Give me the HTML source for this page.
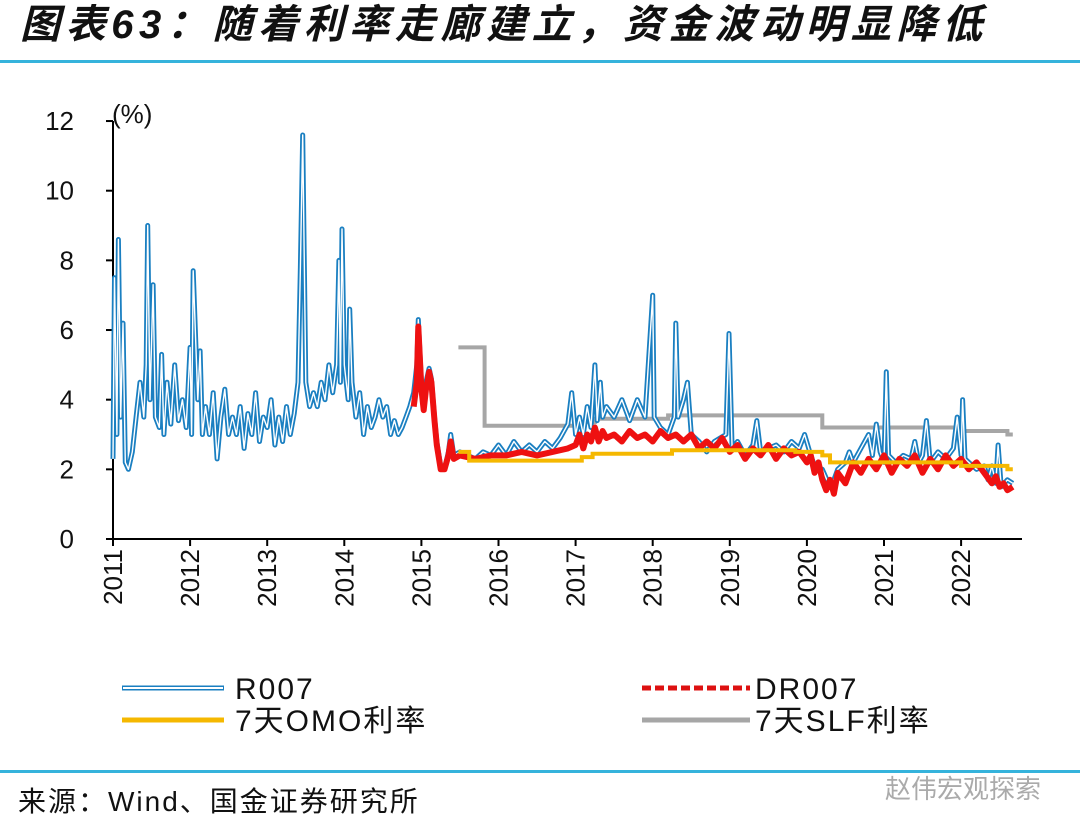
<!DOCTYPE html>
<html><head><meta charset="utf-8"><style>
body{margin:0;background:#fff;width:1080px;height:834px;overflow:hidden;font-family:"Liberation Sans","Noto Sans CJK SC",sans-serif}
</style></head><body>
<svg id="c" width="1080" height="834" xmlns="http://www.w3.org/2000/svg">
<text x="20" y="38" font-size="40" font-weight="bold" font-style="italic" letter-spacing="5.6" fill="#111" font-family="'Liberation Sans','Noto Sans CJK SC',sans-serif">图表63：随着利率走廊建立，资金波动明显降低</text>
<rect x="0" y="60" width="1080" height="3" fill="#35b3dc"/>
<g id="plot"></g>
<rect x="0" y="770" width="1080" height="3" fill="#35b3dc"/>
<text x="18" y="811" font-size="28" letter-spacing="2" fill="#111">来源：Wind、国金证券研究所</text>
<text x="885" y="798" font-size="26" fill="#aaa">赵伟宏观探索</text>
</svg>
<script>
const years=[2011,2012,2013,2014,2015,2016,2017,2018,2019,2020,2021,2022];
const yTicks=[0,2,4,6,8,10,12];
const r007T=[2011,2011.02,2011.05,2011.07,2011.1,2011.13,2011.16,2011.2,2011.25,2011.3,2011.35,2011.4,2011.43,2011.45,2011.48,2011.52,2011.55,2011.6,2011.63,2011.66,2011.7,2011.75,2011.8,2011.85,2011.9,2011.95,2012.0,2012.02,2012.04,2012.1,2012.13,2012.16,2012.2,2012.25,2012.3,2012.35,2012.4,2012.45,2012.5,2012.55,2012.6,2012.65,2012.7,2012.75,2012.8,2012.85,2012.9,2012.95,2013.0,2013.05,2013.1,2013.15,2013.2,2013.25,2013.3,2013.35,2013.4,2013.43,2013.46,2013.5,2013.55,2013.6,2013.65,2013.7,2013.75,2013.8,2013.85,2013.9,2013.93,2013.95,2013.97,2014.0,2014.05,2014.07,2014.1,2014.15,2014.2,2014.25,2014.3,2014.35,2014.4,2014.45,2014.5,2014.55,2014.6,2014.65,2014.7,2014.75,2014.8,2014.85,2014.9,2014.94,2014.96,2015.0,2015.03,2015.06,2015.1,2015.13,2015.17,2015.2,2015.25,2015.3,2015.35,2015.38,2015.42,2015.5,2015.6,2015.7,2015.8,2015.9,2016.0,2016.1,2016.2,2016.3,2016.4,2016.5,2016.6,2016.7,2016.8,2016.9,2016.95,2017.0,2017.05,2017.1,2017.15,2017.2,2017.25,2017.28,2017.32,2017.35,2017.4,2017.5,2017.6,2017.7,2017.8,2017.9,2018.0,2018.02,2018.1,2018.2,2018.28,2018.3,2018.33,2018.4,2018.45,2018.5,2018.6,2018.7,2018.8,2018.95,2018.99,2019.03,2019.1,2019.2,2019.3,2019.35,2019.4,2019.5,2019.6,2019.7,2019.8,2019.9,2019.97,2020.05,2020.1,2020.2,2020.3,2020.35,2020.4,2020.5,2020.55,2020.6,2020.7,2020.8,2020.85,2020.9,2020.95,2021.0,2021.03,2021.06,2021.15,2021.25,2021.35,2021.4,2021.45,2021.5,2021.55,2021.6,2021.7,2021.8,2021.9,2021.95,2022.0,2022.02,2022.05,2022.1,2022.2,2022.3,2022.35,2022.4,2022.45,2022.48,2022.52,2022.6,2022.67];
const r007V=[2.3,7.5,3,8.6,3.5,6.2,2.2,2.0,2.5,3.5,4.5,3.5,5.0,9.0,4,7.3,3.5,3.2,5.3,3.0,4.5,3.3,5.0,3.4,4.0,3.2,5.5,3.0,7.7,4.0,5.4,3.0,3.8,3.0,4.2,2.3,3.5,4.3,3.0,3.5,3.0,3.8,2.6,3.6,3.0,4.2,2.8,3.5,3.2,4.0,2.7,3.5,2.8,3.8,3.0,3.6,4.5,7.8,11.6,4.5,3.8,4.2,3.8,4.5,4.0,5.0,4.2,5.0,8.0,4.5,8.9,5.0,4.0,6.6,4.5,3.5,4.2,3.0,3.8,3.2,3.5,4.0,3.5,3.8,3.0,3.4,3.0,3.2,3.5,3.8,4.2,5.0,6.3,4.5,3.8,4.5,4.9,4.6,3.5,2.8,2.1,2.0,2.5,3.0,2.4,2.5,2.4,2.3,2.5,2.4,2.7,2.4,2.8,2.5,2.7,2.5,2.8,2.6,2.9,3.3,4.2,3.0,3.5,3.0,3.8,3.2,5.0,3.4,4.5,3.5,3.8,3.5,4.0,3.4,4.0,3.5,7.0,3.5,3.2,3.0,3.5,6.2,3.5,4.0,4.5,3.0,2.8,2.5,2.8,3.0,5.9,2.6,2.8,2.4,2.7,3.4,2.5,2.6,2.7,2.5,2.8,2.6,3.0,2.4,2.1,2.0,1.5,1.7,2.0,2.2,2.5,2.2,2.6,3.0,2.4,3.3,2.5,2.2,4.8,2.4,2.2,2.4,2.3,2.8,2.2,2.4,3.4,2.2,2.5,2.3,2.6,3.5,2.4,4.0,2.3,2.2,2.0,2.1,1.7,2.1,1.6,2.7,1.5,1.7,1.6];
const drT=[2014.9,2014.94,2014.96,2015.0,2015.03,2015.06,2015.1,2015.13,2015.17,2015.2,2015.25,2015.3,2015.35,2015.38,2015.42,2015.5,2015.7,2015.9,2016.1,2016.3,2016.5,2016.7,2016.9,2017.0,2017.05,2017.1,2017.15,2017.2,2017.25,2017.3,2017.35,2017.4,2017.5,2017.6,2017.7,2017.8,2017.9,2018.0,2018.1,2018.2,2018.3,2018.4,2018.5,2018.6,2018.7,2018.8,2018.9,2019.0,2019.1,2019.2,2019.3,2019.4,2019.5,2019.6,2019.7,2019.8,2019.9,2020.0,2020.05,2020.1,2020.15,2020.2,2020.25,2020.3,2020.35,2020.4,2020.5,2020.6,2020.7,2020.8,2020.9,2021.0,2021.1,2021.2,2021.3,2021.4,2021.5,2021.6,2021.7,2021.8,2021.9,2022.0,2022.1,2022.2,2022.3,2022.4,2022.45,2022.5,2022.55,2022.6,2022.67];
const drV=[3.8,4.5,6.1,4.3,3.7,4.3,4.8,4.5,3.4,2.7,2.0,2.0,2.4,2.8,2.3,2.4,2.3,2.4,2.4,2.5,2.4,2.5,2.6,2.7,3.0,2.6,3.0,2.8,3.2,2.8,3.1,2.9,3.0,2.8,3.1,2.9,3.0,2.8,3.1,2.9,3.0,2.8,3.0,2.6,2.8,2.6,2.9,2.5,2.7,2.3,2.6,2.4,2.7,2.3,2.6,2.4,2.5,2.2,2.4,1.9,2.2,1.7,1.4,1.7,1.3,1.9,1.6,2.2,1.9,2.3,2.0,2.4,1.9,2.3,2.1,2.4,1.9,2.3,2.0,2.4,2.1,2.3,2.0,2.2,1.9,1.6,1.8,1.5,1.6,1.4,1.5];
const omoT=[2015.48,2015.62,2017.08,2017.22,2018.25,2019.85,2020.2,2020.3,2022.0,2022.6,2022.67];
const omoV=[2.5,2.25,2.35,2.45,2.55,2.5,2.4,2.2,2.1,2.0,2.0];
const slfT=[2015.48,2015.82,2017.1,2017.25,2018.2,2020.2,2022.0,2022.6,2022.67];
const slfV=[5.5,3.25,3.35,3.45,3.55,3.2,3.1,3.0,3.0];

const X=t=>113+(t-2011)*77.1, Y=v=>539-v*34.83;
const NS='http://www.w3.org/2000/svg', g=document.getElementById('plot');
function mk(tag,at,parent){const e=document.createElementNS(NS,tag);for(const k in at)e.setAttribute(k,at[k]);(parent||g).appendChild(e);return e;}
function pts(T,V){return T.map((t,i)=>X(t).toFixed(1)+','+Y(V[i]).toFixed(1)).join(' ');}
function stepPts(T,V){let p=[];for(let i=0;i<T.length;i++){if(i>0)p.push(X(T[i]).toFixed(1)+','+Y(V[i-1]).toFixed(1));p.push(X(T[i]).toFixed(1)+','+Y(V[i]).toFixed(1));}return p.join(' ');}
let e=mk('line',{x1:113,y1:121,x2:113,y2:539,stroke:'#000','stroke-width':2});


e=mk('line',{x1:113,y1:539,x2:1022,y2:539,stroke:'#000','stroke-width':2});


yTicks.forEach(v=>{
 mk('line',{x1:106,y1:Y(v),x2:113,y2:Y(v),stroke:'#000','stroke-width':2});
 const t=mk('text',{x:74,y:Y(v)+9,'font-size':26,'text-anchor':'end',fill:'#111'});t.textContent=v;
 
 
});
const u=mk('text',{x:112,y:123,'font-size':26,fill:'#111'});u.textContent='(%)';


years.forEach(y=>{
 mk('line',{x1:X(y),y1:539,x2:X(y),y2:546,stroke:'#000','stroke-width':2});
 const t=mk('text',{x:0,y:0,'font-size':26,'text-anchor':'end',fill:'#111',transform:`translate(${X(y)+9},549) rotate(-90)`});t.textContent=y;
 
 
});
e=mk('polyline',{points:stepPts(slfT,slfV),fill:'none',stroke:'#a6a6a6','stroke-width':4});


e=mk('polyline',{points:pts(r007T,r007V),fill:'none',stroke:'#1a7fc1','stroke-width':5,'stroke-linejoin':'round'});


e=mk('polyline',{points:pts(r007T,r007V),fill:'none',stroke:'#fff','stroke-width':1.4,'stroke-linejoin':'round'});


e=mk('polyline',{points:pts(drT,drV),fill:'none',stroke:'#ee1111','stroke-width':6,'stroke-linejoin':'round'});


e=mk('polyline',{points:stepPts(omoT,omoV),fill:'none',stroke:'#f5b800','stroke-width':4});


function leg(x,y,label,name,draw){
 const lg=mk('g',{});
 
 
 draw(lg,x,y);
 const t=mk('text',{x:x+113,y:y+11,'font-size':30,'letter-spacing':2,fill:'#111'},lg);t.textContent=label;
}
leg(122,688,'R007','legend-r007',(p,x,y)=>{mk('line',{x1:x,y1:y,x2:x+102,y2:y,stroke:'#1a7fc1','stroke-width':5},p);mk('line',{x1:x+1,y1:y,x2:x+101,y2:y,stroke:'#fff','stroke-width':2},p);});
leg(642,688,'DR007','legend-dr007',(p,x,y)=>{mk('line',{x1:x,y1:y,x2:x+108,y2:y,stroke:'#dd1111','stroke-width':5,'stroke-dasharray':'9,4'},p);});
leg(122,720,'7天OMO利率','legend-omo',(p,x,y)=>{mk('line',{x1:x,y1:y,x2:x+102,y2:y,stroke:'#f5b800','stroke-width':5},p);});
leg(642,720,'7天SLF利率','legend-slf',(p,x,y)=>{mk('line',{x1:x,y1:y,x2:x+108,y2:y,stroke:'#a6a6a6','stroke-width':5},p);});
</script>
</body></html>
